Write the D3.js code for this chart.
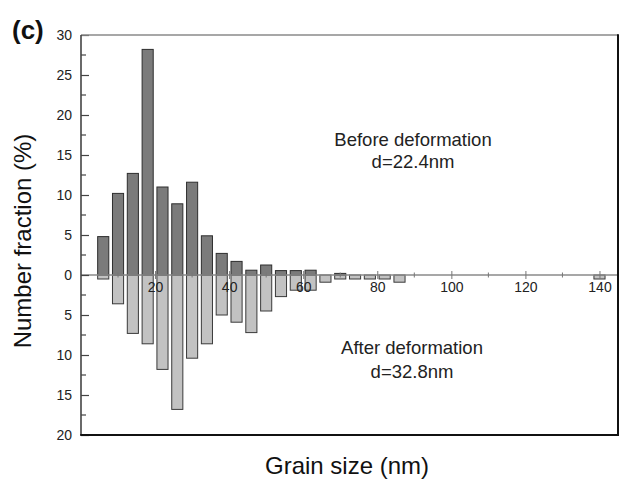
<!DOCTYPE html>
<html>
<head>
<meta charset="utf-8">
<script src="https://cdn.jsdelivr.net/npm/d3@7"></script>
<style>
  html, body { margin: 0; padding: 0; background: #fff; }
  svg { display: block; font-family: "Liberation Sans", Arial, Helvetica, sans-serif; }
</style>
</head>
<body>
<svg id="chart" width="624" height="486"></svg>
<script>
// Grain size bin centres (nm)
const grainSizes = [6, 10, 14, 18, 22, 26, 30, 34, 38, 42, 46, 50, 54, 58, 62, 66, 70, 74, 78, 82, 86, 140];
// Number fraction (%) before deformation (plotted upward)
const beforeValues = [4.8, 10.2, 12.7, 28.2, 11.0, 8.9, 11.6, 4.9, 2.7, 1.7, 0.6, 1.25, 0.55, 0.55, 0.6, 0, 0.2, 0, 0, 0, 0, 0];
// Number fraction (%) after deformation (plotted downward)
const afterValues = [0.5, 3.6, 7.3, 8.6, 11.8, 16.8, 10.4, 8.6, 5.0, 5.9, 7.2, 4.5, 2.7, 1.9, 1.9, 0.9, 0.5, 0.5, 0.5, 0.5, 0.9, 0.5];
// Axis ticks
const xTickValues = [20, 40, 60, 80, 100, 120, 140];
const xMinorTicks = [10, 30, 50, 70, 90, 110, 130];
const yTickValues = [30, 25, 20, 15, 10, 5, 0, -5, -10, -15, -20];
const yMinorTicks = [27.5, 22.5, 17.5, 12.5, 7.5, 2.5, -2.5, -7.5, -12.5, -17.5];
const binWidth = 3;

(function () {
const svg = d3.select("#chart");
const pl = 81, pr = 618, pt = 35, pb = 435;

const x = d3.scaleLinear().domain([0, 145]).range([pl, pr]);
const y = d3.scaleLinear().domain([-20, 30]).range([pb, pt]);

const data = grainSizes.map((g, i) => ({ g, before: beforeValues[i], after: afterValues[i] }));

// After deformation bars (downward)
svg.append("g").selectAll("rect")
  .data(data.filter(d => d.after > 0))
  .join("rect")
  .attr("x", d => x(d.g - binWidth / 2))
  .attr("width", d => x(d.g + binWidth / 2) - x(d.g - binWidth / 2))
  .attr("y", y(0))
  .attr("height", d => y(-d.after) - y(0))
  .attr("fill", "#c2c2c2")
  .attr("stroke", "#3a3a3a")
  .attr("stroke-width", 1);

// Before deformation bars (upward)
svg.append("g").selectAll("rect")
  .data(data.filter(d => d.before > 0))
  .join("rect")
  .attr("x", d => x(d.g - binWidth / 2))
  .attr("width", d => x(d.g + binWidth / 2) - x(d.g - binWidth / 2))
  .attr("y", d => y(d.before))
  .attr("height", d => y(0) - y(d.before))
  .attr("fill", "#7b7b7b")
  .attr("stroke", "#2e2e2e")
  .attr("stroke-width", 1);

// Zero line with crossing ticks
svg.append("line")
  .attr("x1", pl).attr("x2", pr)
  .attr("y1", y(0)).attr("y2", y(0))
  .attr("stroke", "#8a8a8a").attr("stroke-width", 1.3);

const xAxis = svg.append("g").attr("transform", `translate(0,${y(0) - 4})`)
  .call(d3.axisBottom(x).tickValues(xTickValues).tickSize(8).tickPadding(3).tickFormat(d3.format("d")));
xAxis.select(".domain").remove();
xAxis.selectAll(".tick line").attr("stroke", "#777");
xAxis.selectAll(".tick text").attr("font-size", 14).attr("fill", "#222")
  .attr("font-family", "'Liberation Sans', Arial, sans-serif");

svg.append("g").selectAll("line")
  .data(xMinorTicks).join("line")
  .attr("x1", d => x(d)).attr("x2", d => x(d))
  .attr("y1", y(0) - 2.5).attr("y2", y(0) + 2.5)
  .attr("stroke", "#777").attr("stroke-width", 1);

// Y axis (ticks inward)
const yAxis = svg.append("g").attr("transform", `translate(${pl},0)`)
  .call(d3.axisRight(y).tickValues(yTickValues).tickSize(8).tickFormat(d => Math.abs(d)));
yAxis.select(".domain").remove();
yAxis.selectAll(".tick line").attr("stroke", "#444").attr("stroke-width", 1.2);
yAxis.selectAll(".tick text")
  .attr("x", -9).attr("text-anchor", "end")
  .attr("font-size", 14).attr("fill", "#222")
  .attr("font-family", "'Liberation Sans', Arial, sans-serif");

svg.append("g").selectAll("line")
  .data(yMinorTicks).join("line")
  .attr("x1", pl).attr("x2", pl + 5)
  .attr("y1", d => y(d)).attr("y2", d => y(d))
  .attr("stroke", "#444").attr("stroke-width", 1.2);

// Frame
svg.append("line").attr("x1", pl).attr("x2", pr).attr("y1", pt).attr("y2", pt)
  .attr("stroke", "#8a8a8a").attr("stroke-width", 1.5);
svg.append("line").attr("x1", pl).attr("x2", pl).attr("y1", pt).attr("y2", pb)
  .attr("stroke", "#444").attr("stroke-width", 1.6);
svg.append("line").attr("x1", pr).attr("x2", pr).attr("y1", pt - 0.75).attr("y2", pb + 1)
  .attr("stroke", "#111").attr("stroke-width", 2);
svg.append("line").attr("x1", pl - 0.8).attr("x2", pr + 1).attr("y1", pb).attr("y2", pb)
  .attr("stroke", "#111").attr("stroke-width", 2);

// Annotations
const ann = svg.append("g").attr("fill", "#222").attr("font-size", 18.5).attr("text-anchor", "middle");
ann.append("text").attr("x", 413).attr("y", 146).text("Before deformation");
ann.append("text").attr("x", 413).attr("y", 168).text("d=22.4nm");
ann.append("text").attr("x", 412).attr("y", 354).text("After deformation");
ann.append("text").attr("x", 412).attr("y", 378).text("d=32.8nm");

// Axis titles
svg.append("text").attr("x", 347).attr("y", 474).attr("text-anchor", "middle")
  .attr("font-size", 24).attr("fill", "#111").text("Grain size (nm)");
svg.append("text").attr("transform", "translate(31,241) rotate(-90)").attr("text-anchor", "middle")
  .attr("font-size", 24).attr("fill", "#111").text("Number fraction (%)");

// Panel label
svg.append("text").attr("x", 12).attr("y", 39).attr("font-size", 26).attr("font-weight", "bold")
  .attr("fill", "#111").text("(c)");
})();
</script>
</body>
</html>
